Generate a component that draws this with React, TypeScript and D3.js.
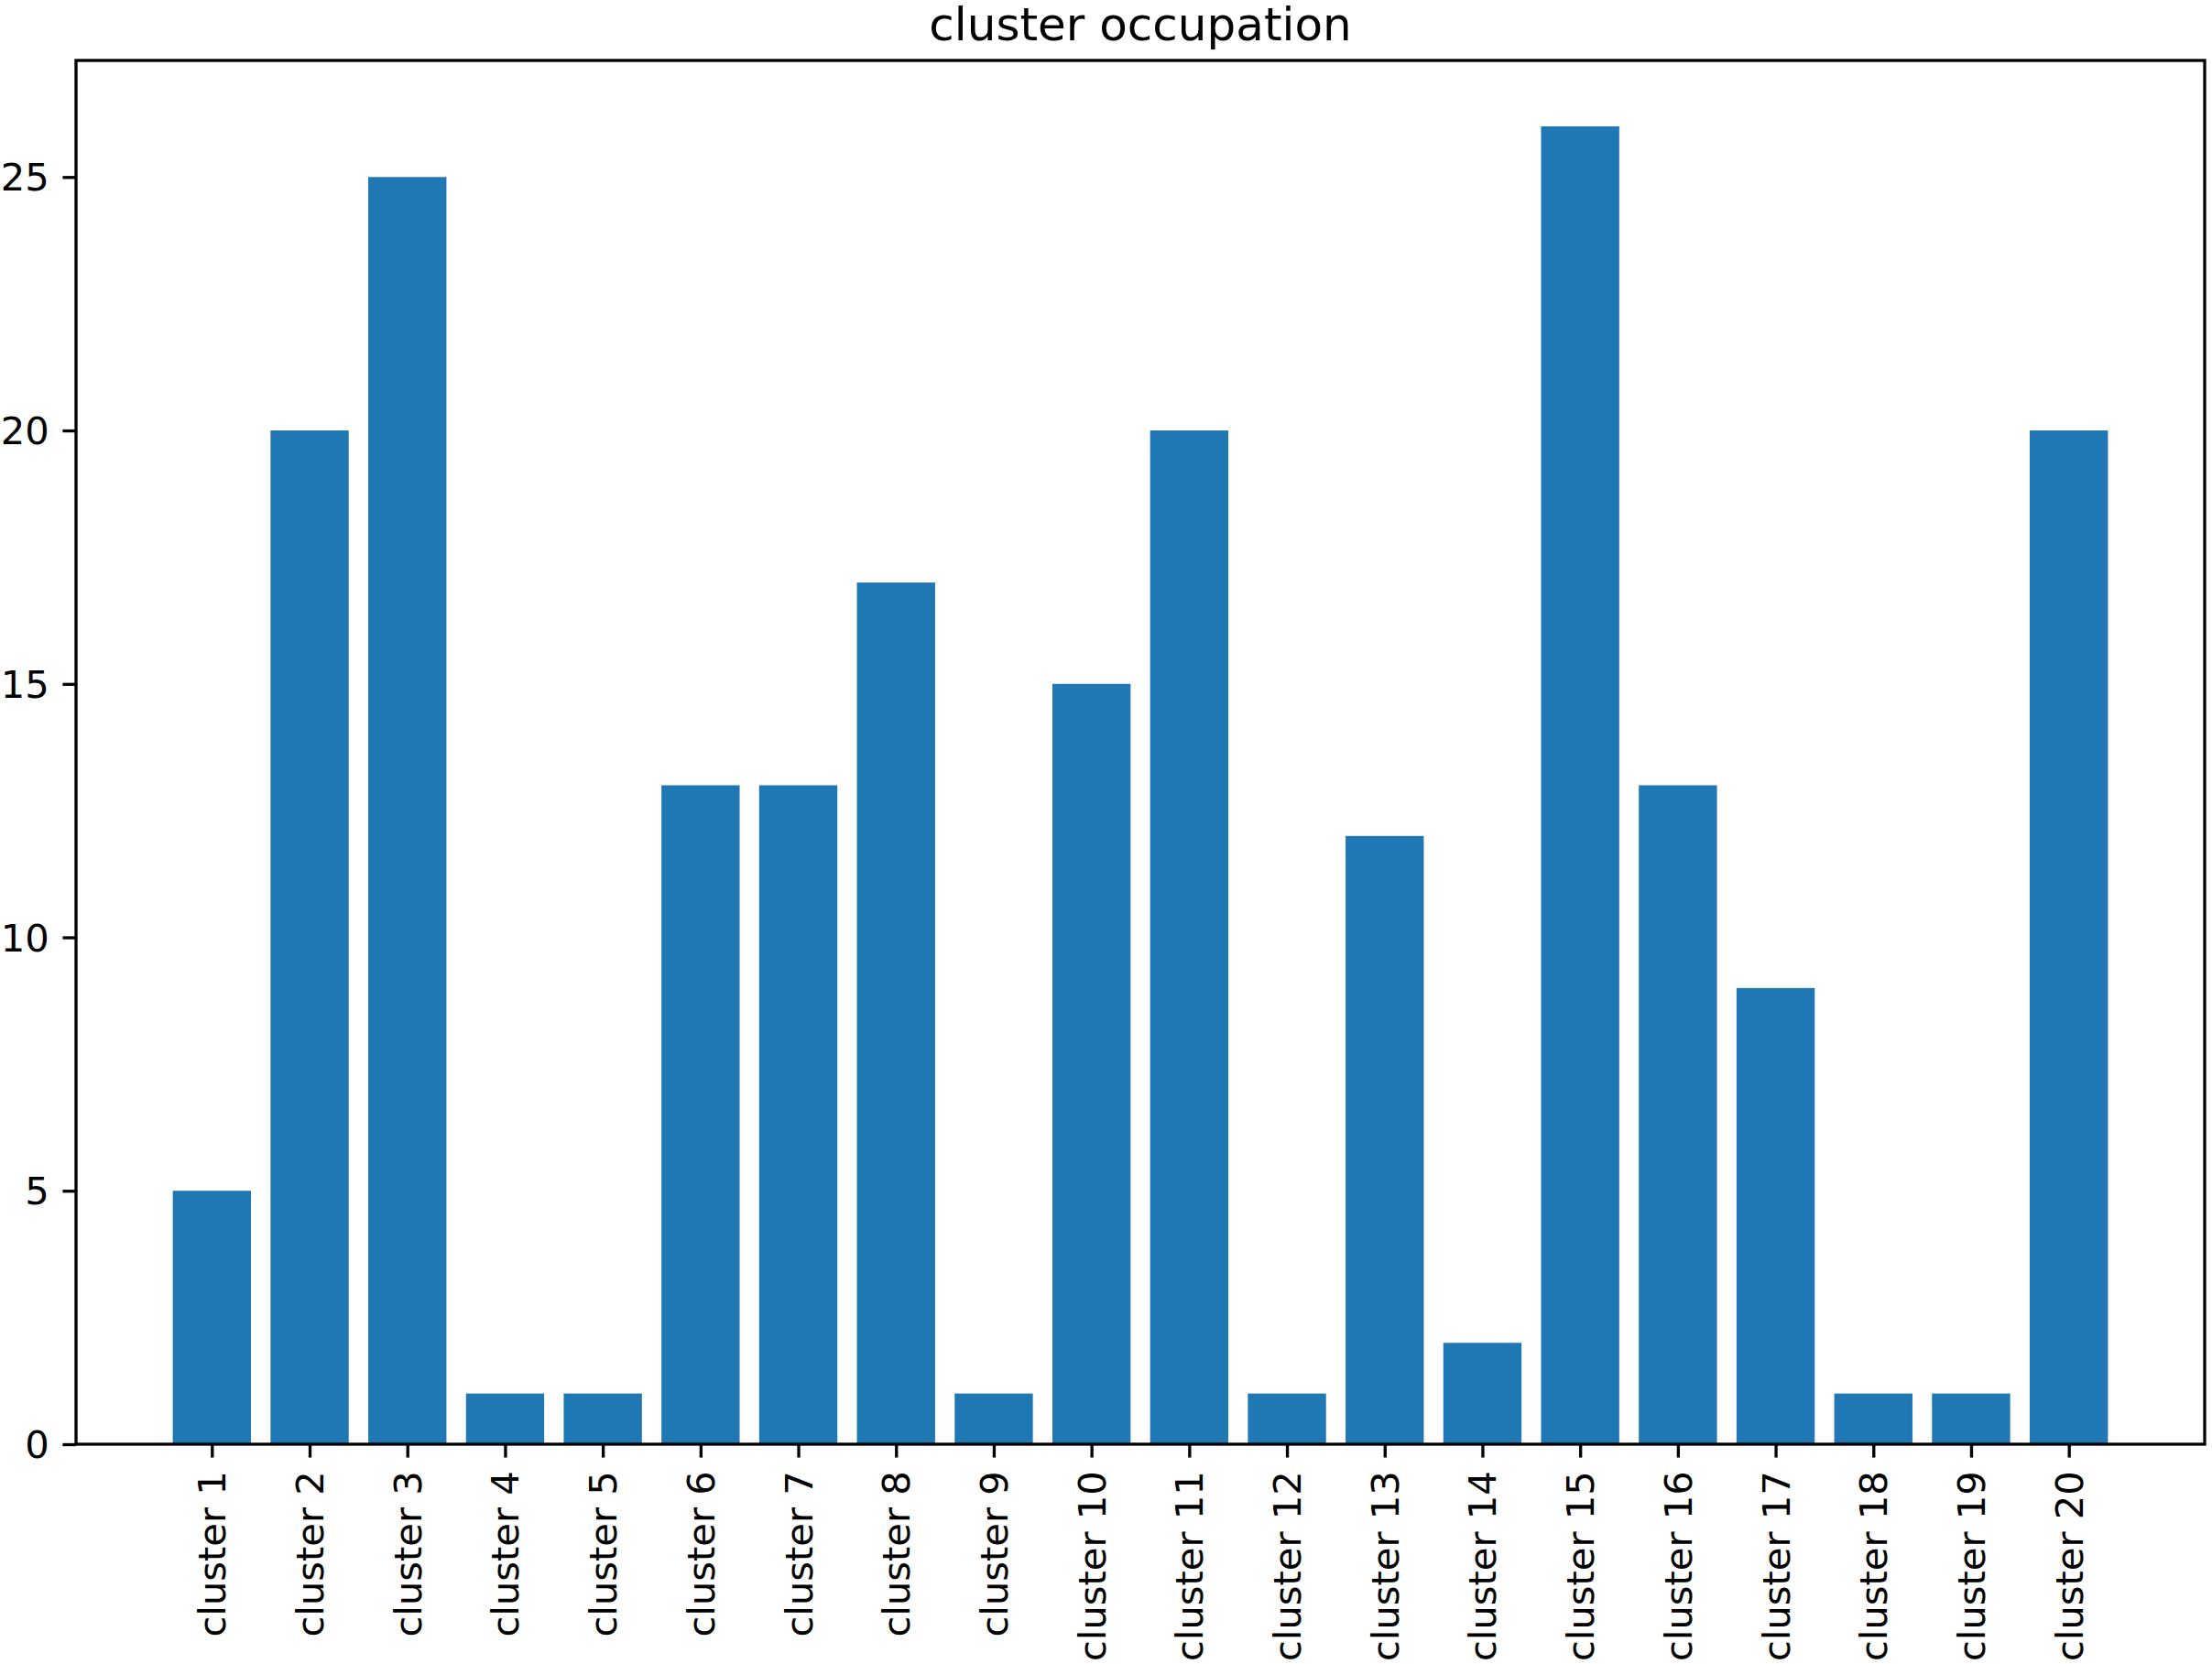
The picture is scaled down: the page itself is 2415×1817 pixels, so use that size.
import { useEffect, useRef } from 'react';
import * as d3 from 'd3';

const CATEGORIES = Array.from({ length: 20 }, (_, i) => `cluster ${i + 1}`);
const COUNTS = [5, 20, 25, 1, 1, 13, 13, 17, 1, 15, 20, 1, 12, 2, 26, 13, 9, 1, 1, 20];
const Y_TICKS = [0, 5, 10, 15, 20, 25];
const TITLE = 'cluster occupation';

const W = 2415;
const H = 1817;
const FONT = '"DejaVu Sans", sans-serif';
const PT = 300 / 72; // px per point

export default function App() {
  const ref = useRef<SVGSVGElement>(null);

  useEffect(() => {
    if (!ref.current) return;
    const svg = d3.select(ref.current);
    svg.selectAll('*').remove();

    const plot = { left: 83, right: 2407, top: 66, bottom: 1577 };
    const barW = 0.8;
    const n = CATEGORIES.length;
    const lo = -barW / 2, hi = n - 1 + barW / 2;
    const mx = (hi - lo) * 0.05;
    const yMax = d3.max(COUNTS)! * 1.05;

    const x = d3.scaleLinear().domain([lo - mx, hi + mx]).range([plot.left, plot.right]);
    const y = d3.scaleLinear().domain([0, yMax]).range([plot.bottom, plot.top]);

    svg.append('rect').attr('width', W).attr('height', H).attr('fill', '#fff');

    // bars
    svg.append('g')
      .selectAll('rect')
      .data(COUNTS)
      .join('rect')
      .attr('x', (_, i) => x(i - barW / 2))
      .attr('width', (_, i) => x(i + barW / 2) - x(i - barW / 2))
      .attr('y', d => y(d))
      .attr('height', d => y(0) - y(d))
      .attr('fill', '#1f77b4');

    const tickLen = 3.5 * PT;
    const pad = 3.5 * PT;
    const fs = 10 * PT;

    // y axis
    const yAxis = svg.append('g')
      .attr('transform', `translate(${plot.left},0)`)
      .call(d3.axisLeft(y).tickValues(Y_TICKS).tickSize(tickLen).tickPadding(pad).tickFormat(d3.format('d')));
    yAxis.select('.domain').remove();
    yAxis.selectAll('.tick line').attr('stroke', '#000').attr('stroke-width', 0.8 * PT);
    yAxis.selectAll('.tick text')
      .attr('fill', '#000').attr('font-family', FONT).attr('font-size', fs)
      .attr('dy', '0.35em');

    // x axis
    const xAxis = svg.append('g')
      .attr('transform', `translate(0,${plot.bottom})`)
      .call(d3.axisBottom(x).tickValues(d3.range(n)).tickSize(tickLen).tickFormat(() => ''));
    xAxis.select('.domain').remove();
    xAxis.selectAll('.tick line').attr('stroke', '#000').attr('stroke-width', 0.8 * PT);

    svg.append('g')
      .selectAll('text')
      .data(CATEGORIES)
      .join('text')
      .attr('transform', (_, i) => `translate(${x(i)},${plot.bottom + tickLen + pad}) rotate(-90)`)
      .attr('text-anchor', 'end')
      .attr('dy', '0.36em')
      .attr('font-family', FONT)
      .attr('font-size', fs)
      .attr('fill', '#000')
      .text(d => d);

    // frame
    svg.append('rect')
      .attr('x', plot.left).attr('y', plot.top)
      .attr('width', plot.right - plot.left).attr('height', plot.bottom - plot.top)
      .attr('fill', 'none').attr('stroke', '#000').attr('stroke-width', 0.8 * PT);

    // title
    svg.append('text')
      .attr('x', (plot.left + plot.right) / 2)
      .attr('y', 44)
      .attr('text-anchor', 'middle')
      .attr('font-family', FONT)
      .attr('font-size', 12 * PT)
      .attr('fill', '#000')
      .text(TITLE);
  }, []);

  return (
    <svg
      ref={ref}
      width={W}
      height={H}
      style={{ position: 'absolute', left: 0, top: 0, display: 'block' }}
    />
  );
}
